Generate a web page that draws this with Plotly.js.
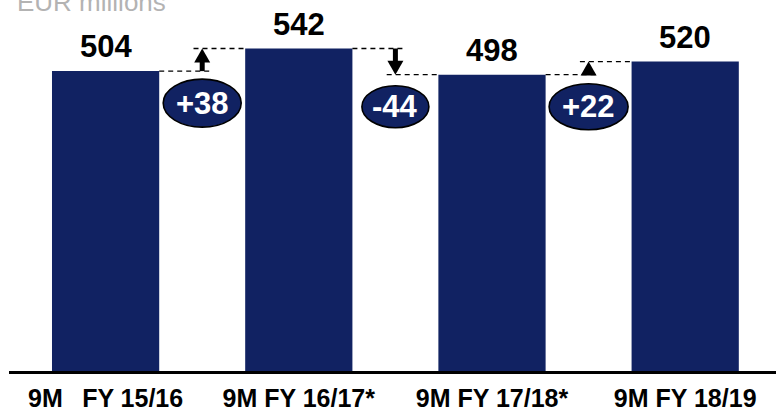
<!DOCTYPE html>
<html><head><meta charset="utf-8">
<script src="https://cdn.plot.ly/plotly-3.0.1.min.js"></script>
<style>html,body{margin:0;padding:0;background:#fff;overflow:hidden}</style>
</head><body><div id="chart" style="width:776px;height:407px"></div>
<script>
// ---- data ----
const categories = ['9M\u2002\u00a0FY 15/16', '9M FY 16/17*', '9M FY 17/18*', '9M FY 18/19'];
const values = [504, 542, 498, 520];
const unitLabel = 'EUR millions';

// ---- style ----
const FONT = 'Liberation Sans, Arial, Helvetica, sans-serif';
const NAVY = '#112262';
const BAR_W = 0.555;
const Y_MAX = 600;
const M = {l: 9, r: 0, t: 14, b: 36};
const PLOT_H = 407 - M.t - M.b;
const PX_PER_UNIT = PLOT_H / Y_MAX;
const bubbleW = [78, 67, 79];
const bubbleH = [48, 42, 46];
const HEAD_L = 14, HEAD_W = 16;

const shapes = [];
const annotations = [];

for (let i = 0; i < values.length - 1; i++) {
  const a = values[i], b = values[i + 1], mid = i + 0.5;
  const delta = b - a;
  const up = delta > 0;
  const dash = {color: '#000', width: 1.3, dash: '5px,4px'};
  shapes.push({type: 'line', xref: 'x', yref: 'y', x0: i + BAR_W / 2, x1: mid + 0.04, y0: a, y1: a, line: dash});
  shapes.push({type: 'line', xref: 'x', yref: 'y', x0: mid - 0.045, x1: i + 1 - BAR_W / 2, y0: b, y1: b, line: dash});
  // arrow stem
  const stemEnd = b - (up ? 1 : -1) * (6 / PX_PER_UNIT);
  if ((up && stemEnd > a) || (!up && stemEnd < a)) {
    shapes.push({type: 'line', xref: 'x', yref: 'y', x0: mid, x1: mid, y0: a, y1: stemEnd, line: {color: '#000', width: 5}});
  }
  // arrow head
  const s = up ? -1 : 1;
  shapes.push({type: 'path', xref: 'x', yref: 'y', xsizemode: 'pixel', ysizemode: 'pixel',
    xanchor: mid, yanchor: b,
    path: `M 0 0 L ${-HEAD_W / 2} ${s * HEAD_L} L ${HEAD_W / 2} ${s * HEAD_L} Z`,
    fillcolor: '#000', line: {width: 0}});
  // bubble
  const lo = Math.min(a, b);
  const cOff = -32;
  shapes.push({type: 'circle', xref: 'x', yref: 'y', xsizemode: 'pixel', ysizemode: 'pixel',
    xanchor: mid, yanchor: lo,
    x0: -bubbleW[i] / 2, x1: bubbleW[i] / 2, y0: cOff - bubbleH[i] / 2, y1: cOff + bubbleH[i] / 2,
    fillcolor: NAVY, line: {color: '#000', width: 1.6}});
  annotations.push({x: mid, y: lo, xref: 'x', yref: 'y', yshift: cOff, yanchor: 'middle', xanchor: 'center',
    text: (up ? '+' : '') + delta, showarrow: false,
    font: {family: FONT, size: 31, color: '#fff', weight: 'bold'}});
}

values.forEach((v, i) => {
  annotations.push({x: i, y: v, xref: 'x', yref: 'y', yanchor: 'bottom', xanchor: 'center', yshift: 5,
    text: String(v), showarrow: false, font: {family: FONT, size: 31, color: '#000', weight: 'bold'}});
});

annotations.push({xref: 'paper', yref: 'paper', x: 6 / 767, y: 1, xanchor: 'left', yanchor: 'bottom', yshift: -5,
  text: unitLabel, showarrow: false, font: {family: FONT, size: 26, color: '#b3b3b3'}});

const trace = {type: 'bar', x: categories, y: values, marker: {color: NAVY, line: {width: 0}},
  hoverinfo: 'none', cliponaxis: false};

const layout = {
  width: 776, height: 407, margin: M,
  paper_bgcolor: '#fff', plot_bgcolor: '#fff', showlegend: false,
  bargap: 1 - BAR_W,
  xaxis: {type: 'category', range: [-0.5, 3.47], showline: true, linecolor: '#000', linewidth: 3,
    ticks: '', showgrid: false, zeroline: false, ticklabelstandoff: 3,
    tickfont: {family: FONT, size: 25, color: '#000', weight: 'bold'}},
  yaxis: {range: [0, Y_MAX], visible: false, showgrid: false, zeroline: false},
  shapes: shapes, annotations: annotations
};

Plotly.newPlot('chart', [trace], layout, {staticPlot: true, displayModeBar: false});
</script></body></html>
